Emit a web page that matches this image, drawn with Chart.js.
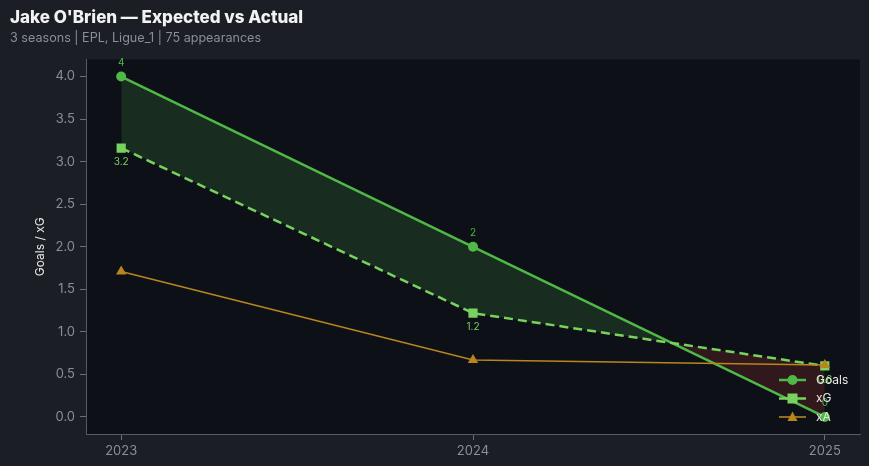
<!DOCTYPE html>
<html>
<head>
<meta charset="utf-8">
<script src="https://cdn.jsdelivr.net/npm/chart.js@4.4.1/dist/chart.umd.min.js"></script>
<style>
  html, body { margin: 0; padding: 0; background: #1b1e25; }
  #wrap { width: 869px; height: 466px; }
</style>
</head>
<body>
<div id="wrap"><canvas id="chart" width="869" height="466"></canvas></div>
<script>
// data
var seasons = [2023, 2024, 2025];
var goals   = [4, 2, 0];
var xg      = [3.16, 1.22, 0.6];
var xa      = [1.71, 0.67, 0.61];
var yTicks  = [0, 0.5, 1, 1.5, 2, 2.5, 3, 3.5, 4];

var GREEN = '#4fb846';
var LIGHT = '#78d35e';
var GOLD  = '#b8861c';

function pts(arr){
    return seasons.map(function(s, i){ return {x: s, y: arr[i]}; });
}

// dark plot background
var plotBg = {
    id: 'plotBg',
    beforeDraw: function(chart){
        var a = chart.chartArea, ctx = chart.ctx;
        ctx.save();
        ctx.fillStyle = '#0d1017';
        ctx.fillRect(a.left, a.top, a.right - a.left, a.bottom - a.top);
        ctx.restore();
    }
};

// value labels for Goals (above) and xG (below)
var valueLabels = {
    id: 'valueLabels',
    afterDatasetsDraw: function(chart){
        var ctx = chart.ctx;
        ctx.save();
        ctx.font = '10px Inter';
        ctx.textAlign = 'center';
        [[0, -14, GREEN], [1, 14, LIGHT]].forEach(function(d){
            var meta = chart.getDatasetMeta(d[0]);
            var vals = chart.data.datasets[d[0]].data;
            meta.data.forEach(function(p, i){
                ctx.fillStyle = d[2];
                ctx.textBaseline = 'middle';
                ctx.fillText(String(Math.round(vals[i].y * 10) / 10), p.x, p.y + d[1]);
            });
        });
        ctx.restore();
    }
};

// legend inside the plot, lower right
var innerLegend = {
    id: 'innerLegend',
    afterDraw: function(chart){
        var ctx = chart.ctx;
        var x0 = 779, x1 = 806, tx = 816;
        var rows = [380, 398.5, 417];
        ctx.save();
        chart.data.datasets.forEach(function(ds, i){
            var y = rows[i];
            ctx.strokeStyle = ds.borderColor;
            ctx.lineWidth = ds.borderWidth;
            ctx.setLineDash([]);
            ctx.beginPath(); ctx.moveTo(x0, y); ctx.lineTo(x1, y); ctx.stroke();
            var cx = (x0 + x1) / 2, r = 5;
            ctx.fillStyle = ds.pointBackgroundColor;
            ctx.beginPath();
            if (ds.pointStyle === 'circle') {
                ctx.arc(cx, y, r, 0, Math.PI * 2);
            } else if (ds.pointStyle === 'rect') {
                ctx.rect(cx - r, y - r, r * 2, r * 2);
            } else {
                ctx.moveTo(cx, y - r * 1.1);
                ctx.lineTo(cx + r, y + r * 0.8);
                ctx.lineTo(cx - r, y + r * 0.8);
                ctx.closePath();
            }
            ctx.fill();
            ctx.fillStyle = '#e8e8e8';
            ctx.font = '12px Inter';
            ctx.textAlign = 'left';
            ctx.textBaseline = 'middle';
            ctx.fillText(ds.label, tx, y);
        });
        ctx.restore();
    }
};

new Chart(document.getElementById('chart'), {
    type: 'line',
    data: {
        datasets: [
            {
                label: 'Goals',
                data: pts(goals),
                borderColor: GREEN,
                backgroundColor: GREEN,
                pointBackgroundColor: GREEN,
                borderWidth: 2.5,
                pointStyle: 'circle',
                pointRadius: 5,
                pointBorderWidth: 0,
                tension: 0,
                order: 2,
                fill: {
                    target: 1,
                    above: 'rgba(76, 175, 80, 0.18)',
                    below: 'rgba(190, 60, 50, 0.2)'
                }
            },
            {
                label: 'xG',
                data: pts(xg),
                borderColor: LIGHT,
                backgroundColor: LIGHT,
                pointBackgroundColor: LIGHT,
                borderWidth: 2.5,
                borderDash: [9, 5],
                pointStyle: 'rect',
                pointRadius: 6.5,
                pointBorderWidth: 0,
                tension: 0,
                order: 1,
                fill: false
            },
            {
                label: 'xA',
                data: pts(xa),
                borderColor: GOLD,
                backgroundColor: GOLD,
                pointBackgroundColor: GOLD,
                borderWidth: 1.6,
                pointStyle: 'triangle',
                pointRadius: 6,
                pointBorderWidth: 0,
                tension: 0,
                order: 0,
                fill: false
            }
        ]
    },
    options: {
        responsive: false,
        animation: false,
        layout: { padding: { left: 10, right: 9, top: 0, bottom: 0 } },
        plugins: {
            legend: { display: false },
            tooltip: { enabled: false },
            title: {
                display: true,
                text: "Jake O'Brien \u2014 Expected vs Actual",
                align: 'start',
                color: '#f2f2f2',
                font: { family: 'Inter', size: 17, weight: 800 },
                padding: { top: 8, bottom: 2 }
            },
            subtitle: {
                display: true,
                text: '3 seasons | EPL, Ligue_1 | 75 appearances',
                align: 'start',
                color: '#8a8e97',
                font: { family: 'Inter', size: 12.6 },
                padding: { top: 0, bottom: 14 }
            }
        },
        scales: {
            x: {
                type: 'linear',
                min: 2022.9,
                max: 2025.1,
                afterBuildTicks: function(scale){
                    scale.ticks = seasons.map(function(v){ return {value: v}; });
                },
                afterFit: function(scale){ scale.height = 32; },
                ticks: {
                    color: '#8a8e97',
                    font: { family: 'Inter', size: 13 },
                    padding: 3,
                    callback: function(v){ return String(v); }
                },
                grid: { drawOnChartArea: false, drawTicks: true, tickLength: 6, color: '#6a6e77' },
                border: { color: '#555a64' }
            },
            y: {
                min: -0.2,
                max: 4.2,
                afterBuildTicks: function(scale){
                    scale.ticks = yTicks.map(function(v){ return {value: v}; });
                },
                afterFit: function(scale){ scale.width = 76; },
                title: {
                    display: true,
                    text: 'Goals / xG',
                    color: '#e8e8e8',
                    font: { family: 'Inter', size: 12 },
                    padding: { top: 23, bottom: 0 }
                },
                ticks: {
                    color: '#8a8e97',
                    font: { family: 'Inter', size: 13 },
                    padding: 5,
                    callback: function(v){ return Number(v).toFixed(1); }
                },
                grid: { drawOnChartArea: false, drawTicks: true, tickLength: 6, color: '#6a6e77' },
                border: { color: '#555a64' }
            }
        }
    },
    plugins: [plotBg, valueLabels, innerLegend]
});
</script>
</body>
</html>
